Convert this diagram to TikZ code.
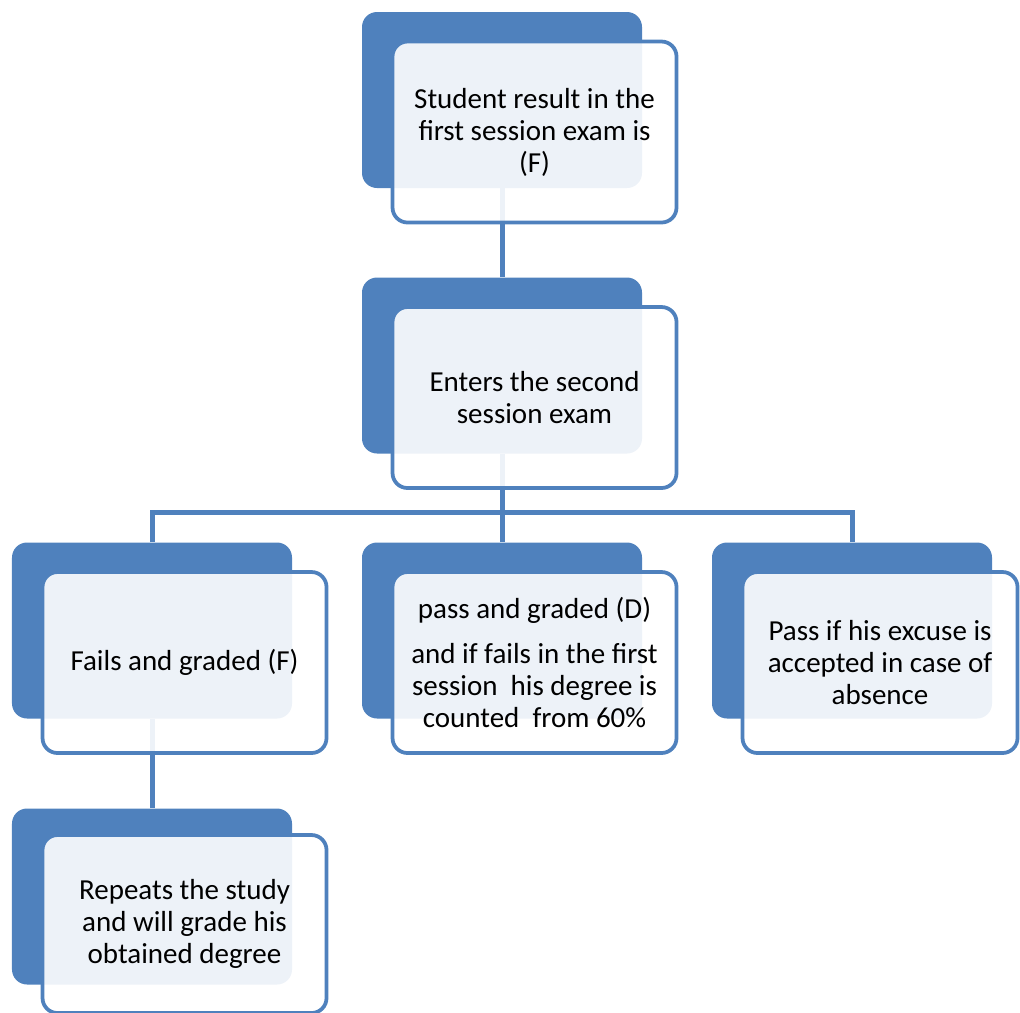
\documentclass[tikz,border=0pt]{standalone}
\usepackage{fontspec}
\setmainfont{Carlito}
\usetikzlibrary{calc,positioning}
\definecolor{boxblue}{HTML}{4F81BD}
\tikzset{
  backbox/.style={fill=boxblue, rounded corners=0.3cm,
    minimum width=5.6cm, minimum height=3.52cm},
  frontbox/.style={draw=boxblue, line width=0.075cm, fill=white,
    fill opacity=0.9, text opacity=1, rounded corners=0.3cm,
    minimum width=5.68cm, minimum height=3.62cm, align=center,
    anchor=north west, font=\fontsize{16.5}{18.2}\selectfont},
  link/.style={draw=boxblue, line width=0.1cm}
}

\begin{document}
\begin{tikzpicture}
  \useasboundingbox (0,0) rectangle (20.4,-20.26);
  % back boxes
  \node[backbox](first-b) at (10.04,-2.0){};
  \node[backbox](second-b) at (10.04,-7.31){};
  \node[backbox](fail-b) at (3.04,-12.61){};
  \node[backbox](pass-b) at (10.04,-12.61){};
  \node[backbox](excuse-b) at (17.04,-12.61){};
  \node[backbox](repeat-b) at (3.04,-17.93){};
  % connectors
  \coordinate(bus) at (10.04,-10.24);
  \draw[link](first-b.south)--(second-b.north);
  \draw[link](second-b.south)--(bus);
  \draw[link](fail-b.north)|-(bus)-|(excuse-b.north);
  \draw[link](bus)--(pass-b.north);
  \draw[link](fail-b.south)--(repeat-b.north);
  % front boxes
  \node[frontbox](first) at ($(first-b.north west)+(0.58,-0.56)$)
    {Student result in the\\first session exam is\\(F)};
  \node[frontbox](second) at ($(second-b.north west)+(0.58,-0.56)$)
    {Enters the second\\session exam};
  \node[frontbox](fail) at ($(fail-b.north west)+(0.58,-0.56)$)
    {Fails and graded (F)};
  \node[frontbox](pass) at ($(pass-b.north west)+(0.58,-0.56)$)
    {pass and graded (D)\\[0.26cm]and if fails in the first\\session\ \ his degree is\\counted\ \ from 60\%};
  \node[frontbox, minimum width=5.5cm](excuse) at ($(excuse-b.north west)+(0.58,-0.56)$)
    {Pass if his excuse is\\accepted in case of\\absence};
  \node[frontbox, minimum height=3.56cm](repeat) at ($(repeat-b.north west)+(0.58,-0.5)$)
    {Repeats the study\\and will grade his\\obtained degree};
\end{tikzpicture}
\end{document}
